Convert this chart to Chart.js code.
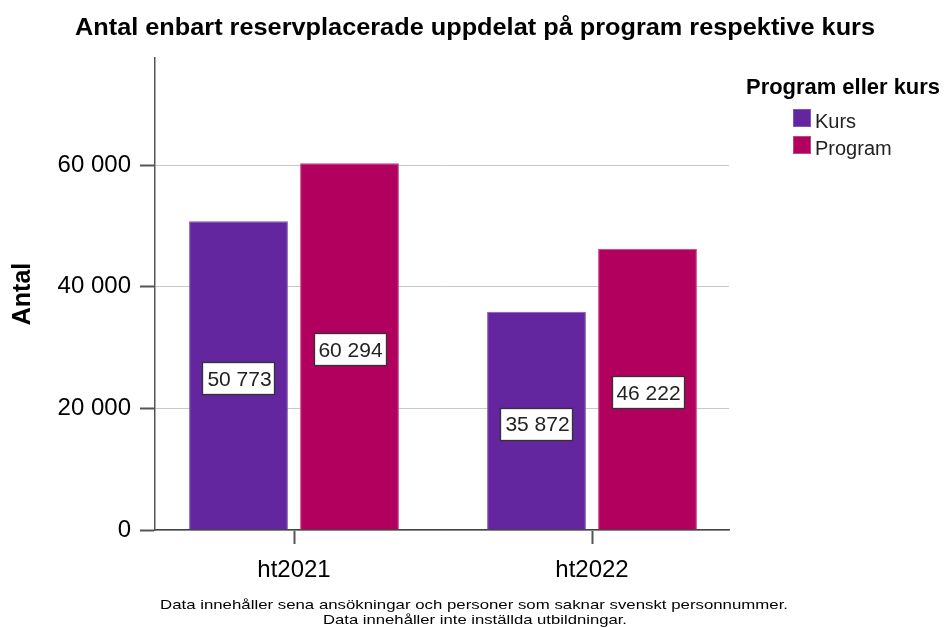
<!DOCTYPE html>
<html>
<head>
<meta charset="utf-8">
<script src="https://cdn.jsdelivr.net/npm/chart.js@4"></script>
<style>
  html, body { margin: 0; padding: 0; background: #fff; }
  #wrap { width: 944px; height: 628px; }
</style>
</head>
<body>
<div id="wrap"><canvas id="grafico" width="944" height="628"></canvas></div>
<script>
// Data
const terminer = ['ht2021', 'ht2022'];
const kursVarden = [50773, 35872];
const programVarden = [60294, 46222];
const serieNamn = ['Kurs', 'Program'];
const yTicks = [0, 20000, 40000, 60000];

const titel = 'Antal enbart reservplacerade uppdelat på program respektive kurs';
const legendTitel = 'Program eller kurs';
const fotnot = [
    'Data innehåller sena ansökningar och personer som saknar svenskt personnummer.',
    'Data innehåller inte inställda utbildningar.'
];

const FONT = "'Liberation Sans', Arial, sans-serif";
const farger = ['#63269E', '#B1005E'];
const kanter = ['#8455b8', '#c8408a'];

// tusentalsavgränsare med mellanslag
function formatera(v) {
    return String(Math.round(v)).replace(/\B(?=(\d{3})+(?!\d))/g, ' ');
}

// text som sträcks ut till en given bredd (originalet har bredare typsnitt)
function breddText(ctx, txt, cx, cy, bredd) {
    const w = ctx.measureText(txt).width;
    ctx.save();
    ctx.translate(cx, cy);
    ctx.scale(bredd / w, 1);
    ctx.textAlign = 'center';
    ctx.textBaseline = 'middle';
    ctx.fillText(txt, 0, 0);
    ctx.restore();
}

// flyttar kategorierna lite (x-axeln i originalet är inte symmetrisk)
const xPlacering = {
    id: 'xPlacering',
    afterLayout(chart) {
        const x = chart.scales.x;
        x._startPixel = 145;
        x._endPixel = 741;
        x._length = 596;
    }
};

// Titel, legend, fotnot och etiketter
const textPlugin = {
    id: 'textPlugin',
    afterDatasetsDraw(chart) {
        const ctx = chart.ctx;
        // etiketter i staplarna
        chart.data.datasets.forEach((ds, i) => {
            const meta = chart.getDatasetMeta(i);
            meta.data.forEach((bar, j) => {
                const txt = formatera(ds.data[j]);
                const cy = (bar.y + bar.base) / 2 + 3;
                ctx.save();
                ctx.font = '21px ' + FONT;
                const w = Math.round(ctx.measureText(txt).width + 8);
                const h = 32;
                const x0 = Math.round(bar.x - w / 2);
                const y0 = Math.round(cy - h / 2);
                ctx.fillStyle = '#fff';
                ctx.fillRect(x0, y0, w, h);
                ctx.strokeStyle = '#333';
                ctx.lineWidth = 1.3;
                ctx.strokeRect(x0 + 0.5, y0 + 0.5, w, h);
                ctx.fillStyle = '#222';
                ctx.textAlign = 'center';
                ctx.textBaseline = 'middle';
                ctx.fillText(txt, bar.x + 1, cy + 2);
                ctx.restore();
            });
        });
    },
    afterDraw(chart) {
        const ctx = chart.ctx;
        ctx.save();
        // huvudtitel
        ctx.fillStyle = '#000';
        ctx.font = 'bold 23px ' + FONT;
        breddText(ctx, titel, 475, 29, 800);

        // legend
        ctx.textAlign = 'left';
        ctx.textBaseline = 'middle';
        ctx.font = 'bold 22px ' + FONT;
        breddText(ctx, legendTitel, 843, 88, 194);
        ctx.font = '20px ' + FONT;
        serieNamn.forEach((namn, i) => {
            const y = 109 + i * 27;
            ctx.fillStyle = farger[i];
            ctx.fillRect(793, y, 18, 18);
            ctx.strokeStyle = kanter[i];
            ctx.lineWidth = 1;
            ctx.strokeRect(793.5, y + 0.5, 17, 17);
            ctx.fillStyle = '#222';
            ctx.textAlign = 'left';
            ctx.fillText(namn, 815, y + 13);
        });

        // fotnot
        ctx.fillStyle = '#000';
        ctx.font = '13.5px ' + FONT;
        breddText(ctx, fotnot[0], 474, 605, 628);
        breddText(ctx, fotnot[1], 475, 620, 304);
        ctx.restore();
    }
};

const config = {
    type: 'bar',
    data: {
        labels: terminer,
        datasets: [
            {
                label: serieNamn[0],
                data: kursVarden,
                backgroundColor: farger[0],
                borderColor: kanter[0],
                borderWidth: 1
            },
            {
                label: serieNamn[1],
                data: programVarden,
                backgroundColor: farger[1],
                borderColor: kanter[1],
                borderWidth: 1
            }
        ]
    },
    options: {
        responsive: false,
        animation: false,
        devicePixelRatio: 1,
        categoryPercentage: 0.745,
        barPercentage: 0.89,
        layout: {
            padding: { top: 58, right: 215, bottom: 0, left: 0 }
        },
        plugins: {
            legend: { display: false },
            title: { display: false },
            tooltip: { enabled: false }
        },
        scales: {
            x: {
                afterFit(scale) { scale.height = 98; },
                grid: {
                    offset: false,
                    drawOnChartArea: false,
                    tickLength: 14,
                    tickColor: '#555',
                    tickWidth: 2
                },
                border: { color: '#444', width: 1.5 },
                ticks: {
                    color: '#000',
                    padding: 12,
                    font: { family: FONT, size: 24 }
                }
            },
            y: {
                min: 0,
                max: 77600,
                afterFit(scale) { scale.width = 155; },
                afterBuildTicks(scale) {
                    scale.ticks = yTicks.map(v => ({ value: v }));
                },
                grid: {
                    color: '#c8c8c8',
                    tickColor: '#555',
                    tickLength: 15,
                    tickWidth: 2
                },
                border: { color: '#555', width: 1.5 },
                ticks: {
                    color: '#000',
                    padding: 9,
                    font: { family: FONT, size: 24 },
                    callback: v => formatera(v)
                },
                title: {
                    display: true,
                    text: 'Antal',
                    color: '#000',
                    font: { family: FONT, size: 25, weight: 'bold' },
                    padding: { top: 8, bottom: 0 }
                }
            }
        }
    },
    plugins: [xPlacering, textPlugin]
};

const meuGrafico = new Chart(document.getElementById('grafico'), config);
</script>
</body>
</html>
